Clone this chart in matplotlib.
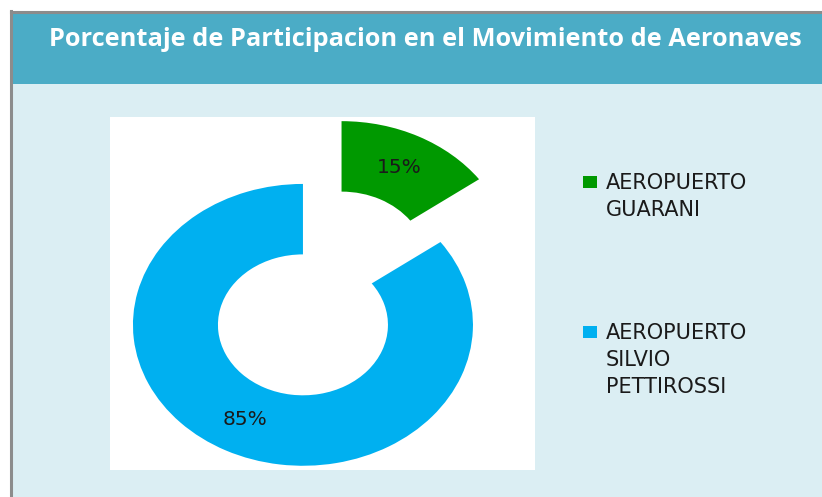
import matplotlib.pyplot as plt
from matplotlib.patches import Rectangle

# data
categories = ['AEROPUERTO GUARANI', 'AEROPUERTO SILVIO PETTIROSSI']
shares = [15, 85]
colors = ['#009900', '#00B0F0']
explode = [0.5, 0]
title = 'Porcentaje de Participacion en el Movimiento de Aeronaves'

W, H = 822, 497
fig = plt.figure(figsize=(W / 100, H / 100), dpi=100)
fig.patch.set_facecolor('white')

# background panel, border and title bar
fig.patches.append(Rectangle((10 / W, 0), 1 - 10 / W, 1 - 11 / H, transform=fig.transFigure,
                             facecolor='#DBEEF3', edgecolor='none', zorder=0))
fig.patches.append(Rectangle((12 / W, 1 - 84 / H), 1, 71 / H, transform=fig.transFigure,
                             facecolor='#4BACC6', edgecolor='none', zorder=1))
fig.add_artist(plt.Line2D([11 / W, 11 / W], [0, 1 - 11 / H], transform=fig.transFigure,
                          color='#8C8C8C', lw=2.2))
fig.add_artist(plt.Line2D([11 / W, 1], [1 - 12 / H, 1 - 12 / H], transform=fig.transFigure,
                          color='#8C8C8C', lw=2.2))
fig.text(425 / W, 1 - 39 / H, title, ha='center', va='center', color='white',
         fontsize=18.3, fontweight='bold', family='Open Sans')

# donut
ax = fig.add_axes([110 / W, 1 - 470 / H, 425 / W, 353 / H])
ax.set_zorder(5)
ax.set_facecolor('white')
wedges, texts, autotexts = ax.pie(shares, colors=colors, explode=explode, startangle=90,
                                  counterclock=False, autopct='%1.0f%%', pctdistance=0.75,
                                  wedgeprops=dict(width=0.5, edgecolor='none'),
                                  textprops=dict(fontsize=14.5, color='#1a1a1a'))
ax.set_aspect('auto')
ax.set_xlim(-1.135, 1.365)
ax.set_ylim(-1.03, 1.475)
ax.set_frame_on(True)
for s in ax.spines.values():
    s.set_visible(False)
ax.set_xticks([])
ax.set_yticks([])

# legend
legend_y = [182, 332]
for name, c, y in zip(categories, colors, legend_y):
    fig.patches.append(Rectangle((583 / W, 1 - (y + 6) / H), 14 / W, 12 / H,
                                 transform=fig.transFigure, facecolor=c, edgecolor='none',
                                 zorder=6))
    fig.text(606 / W, 1 - (y - 9) / H, name.replace(' ', '\n'), ha='left', va='top',
             fontsize=15, color='#1a1a1a', linespacing=1.45, zorder=6)

fig.savefig('out.png', dpi=100)
